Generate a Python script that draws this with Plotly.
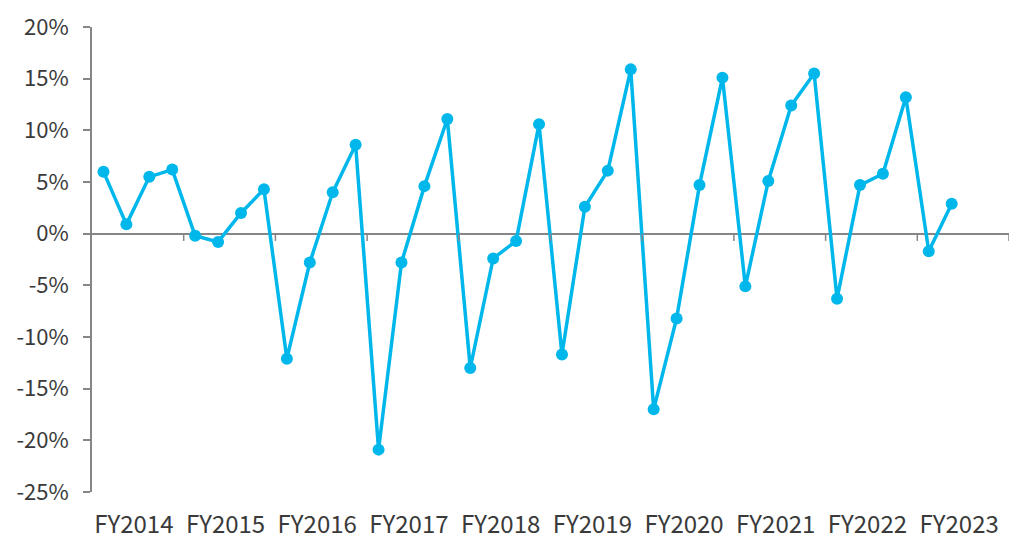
import plotly.graph_objects as go

years = ["FY2014", "FY2015", "FY2016", "FY2017", "FY2018", "FY2019",
         "FY2020", "FY2021", "FY2022", "FY2023"]
quarters_per_year = 4
values = [6.0, 0.9, 5.5, 6.2,
          -0.2, -0.8, 2.0, 4.3,
          -12.1, -2.8, 4.0, 8.6,
          -20.9, -2.8, 4.6, 11.1,
          -13.0, -2.4, -0.7, 10.6,
          -11.7, 2.6, 6.1, 15.9,
          -17.0, -8.2, 4.7, 15.1,
          -5.1, 5.1, 12.4, 15.5,
          -6.3, 4.7, 5.8, 13.2,
          -1.7, 2.9]
y_ticks = [20, 15, 10, 5, 0, -5, -10, -15, -20, -25]

x = list(range(len(values)))
n_slots = len(years) * quarters_per_year
axis_col = "#868686"
text_col = "#3a3a3a"
font_fam = "Noto Sans CJK JP, Noto Sans, sans-serif"
page_pad = 8  # default body margin of the html page

fig = go.Figure()
fig.add_trace(go.Scatter(
    x=x, y=values, mode="lines+markers",
    line=dict(color="#00B7EB", width=3.5),
    marker=dict(color="#00B7EB", size=12),
    showlegend=False, hoverinfo="skip"))

# group boundary tick marks on the zero line
for k in range(1, len(years) + 1):
    xb = k * quarters_per_year - 0.5
    fig.add_shape(type="line", xref="x", yref="y", x0=xb, x1=xb, y0=0, y1=-0.7,
                  line=dict(color=axis_col, width=1.5))

fig.update_layout(
    width=1022 - page_pad, height=541 - page_pad,
    margin=dict(l=92 - page_pad, r=13, t=27 - page_pad, b=49),
    paper_bgcolor="white", plot_bgcolor="white",
    font=dict(family=font_fam, size=22, color=text_col),
    xaxis=dict(range=[-0.5, n_slots - 0.5], automargin=False,
               tickvals=[i * quarters_per_year + 1.5 for i in range(len(years))],
               ticktext=years, ticks="", showline=False, showgrid=False,
               zeroline=False, ticklabelstandoff=16, ticklabelshift=-4,
               tickfont=dict(size=24, color=text_col)),
    yaxis=dict(range=[-25, 20], tickvals=y_ticks, automargin=False,
               ticktext=[f"{v}%" for v in y_ticks],
               showline=True, linecolor=axis_col, linewidth=1.6,
               ticks="outside", ticklen=7, tickcolor=axis_col, tickwidth=1.5,
               showgrid=False, zeroline=True, zerolinecolor=axis_col,
               zerolinewidth=1.6, ticklabelstandoff=10,
               tickfont=dict(size=22, color=text_col)),
)
fig.write_html("out.html")
